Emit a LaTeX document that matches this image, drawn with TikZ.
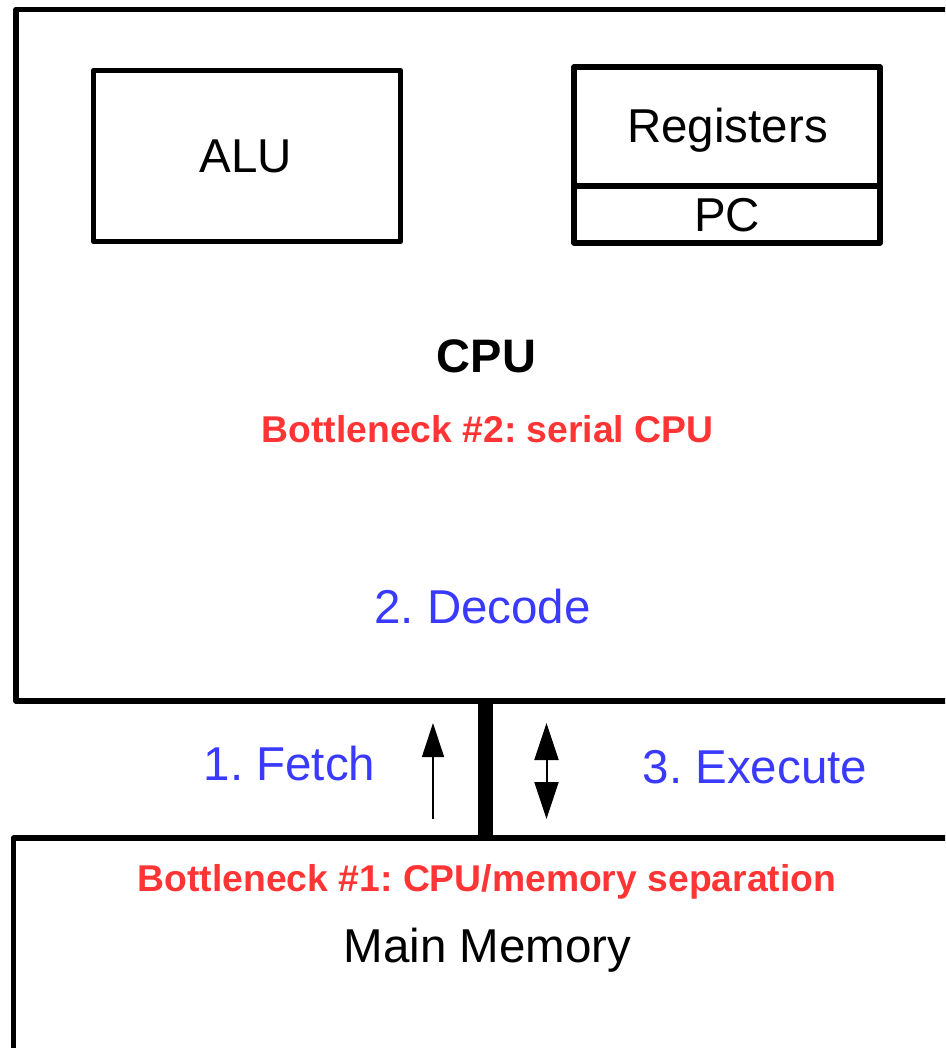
\documentclass[tikz,border=0pt]{standalone}
\usepackage{fontspec}
\setmainfont{Liberation Sans}
\usetikzlibrary{arrows.meta}
\definecolor{redtxt}{HTML}{FF3535}
\definecolor{bluetxt}{HTML}{3A3AFF}
\frenchspacing
\begin{document}
\begin{tikzpicture}[x=1pt,y=-1pt,
  box/.style={draw,line width=5.5pt,line join=round,outer sep=0pt,inner sep=0pt,anchor=north west},
  lbl/.style={anchor=base,inner sep=0pt,font=\fontsize{47.5}{56}\selectfont},
  boldlbl/.style={anchor=base,inner sep=0pt,font=\fontsize{47}{56}\selectfont\bfseries},
  redlbl/.style={anchor=base,inner sep=0pt,text=redtxt,font=\fontsize{37.3}{44}\selectfont\bfseries},
  bluelbl/.style={anchor=base,inner sep=0pt,text=bluetxt,font=\fontsize{47.5}{56}\selectfont},
  busline/.style={line width=15pt},
  fetcharrow/.style={line width=1.2pt,-{Triangle[width=22pt,length=34pt]}},
  execarrow/.style={line width=2pt,{Triangle[width=24pt,length=37pt]}-{Triangle[width=24pt,length=37pt]}}]
\useasboundingbox (0,0) rectangle (945,1048);
\clip (0,0) rectangle (945,1048);
\fill[white] (0,0) rectangle (945,1048);

% CPU frame and memory frame (extend past the right / bottom edges)
\node[box,minimum width=1000pt,minimum height=691.5pt] (cpu) at (16,9.5) {};
\node[box,minimum width=1000pt,minimum height=300pt] (mem) at (13.5,838) {};

% ALU and registers
\node[box,minimum width=307pt,minimum height=171pt] (alu) at (93.5,70.5) {};
\node[box,minimum width=306pt,minimum height=119pt] (regs) at (574,67) {};
\node[box,minimum width=306pt,minimum height=57pt] (pc) at (574,186) {};

\node[lbl] (alut) at (246,173) {ALU};
\node[lbl] (regst) at (727.5,143) {Registers};
\node[lbl] (pct) at (727,232) {PC};

\node[boldlbl] (cput) at (486.5,372) {CPU};
\node[redlbl] (bn2) at (487.5,442) {Bottleneck \#2: serial CPU};
\node[bluelbl] (decode) at (482.5,623) {2. Decode};

% bus
\coordinate (busx) at (485,0);
\draw[busline] (cpu.south -| busx) -- (mem.north -| busx);

% arrows
\coordinate (fetchfrom) at (433,819);
\coordinate (fetchto) at (433,723);
\draw[fetcharrow] (fetchfrom) -- (fetchto);
\coordinate (execlow) at (546.5,819);
\coordinate (exechigh) at (546.5,723);
\draw[execarrow] (execlow) -- (exechigh);

\node[bluelbl] (fetch) at (289.5,780) {1. Fetch};
\node[bluelbl] (execute) at (755,783.5) {3. Execute};

\node[redlbl] (bn1) at (487,891) {Bottleneck \#1: CPU/memory separation};
\node[lbl] (memt) at (487.5,962) {Main Memory};
\end{tikzpicture}
\end{document}
